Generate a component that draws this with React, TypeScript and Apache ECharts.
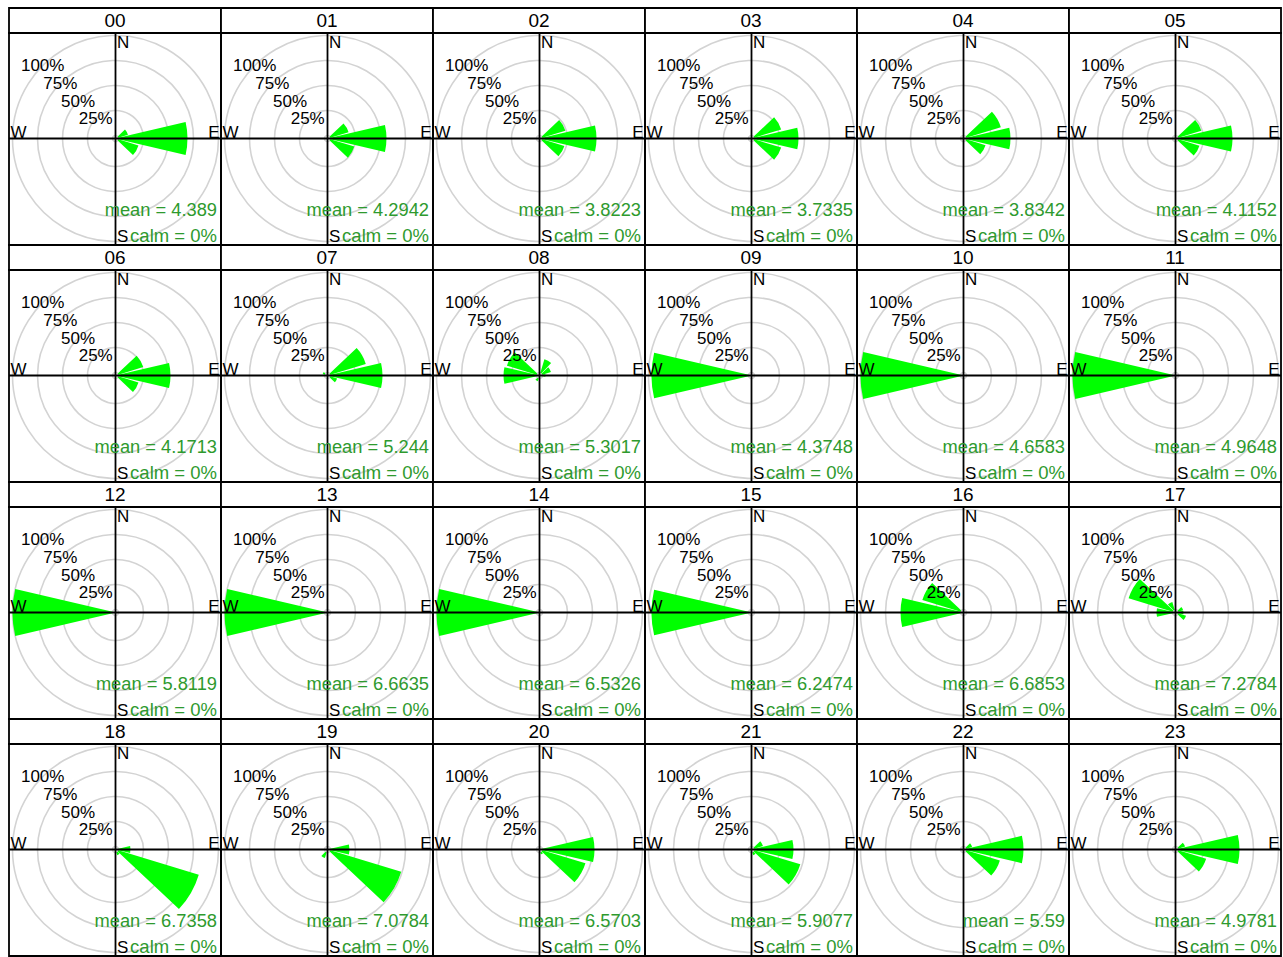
import React, { useEffect, useRef } from "react";
import * as echarts from "echarts";

// hour labels of the 24 panels
const hours = [
  "00", "01", "02", "03", "04", "05",
  "06", "07", "08", "09", "10", "11",
  "12", "13", "14", "15", "16", "17",
  "18", "19", "20", "21", "22", "23",
];

// 30 degree sectors, clockwise from north
const directions = ["0", "30", "60", "90", "120", "150", "180", "210", "240", "270", "300", "330"];

const ringTicks = [25, 50, 75, 100];

const means = [
  "4.389", "4.2942", "3.8223", "3.7335", "3.8342", "4.1152",
  "4.1713", "5.244", "5.3017", "4.3748", "4.6583", "4.9648",
  "5.8119", "6.6635", "6.5326", "6.2474", "6.6853", "7.2784",
  "6.7358", "7.0784", "6.5703", "5.9077", "5.59", "4.9781",
];

const calms = [0, 0, 0, 0, 0, 0, 0, 0, 0, 0, 0, 0, 0, 0, 0, 0, 0, 0, 0, 0, 0, 0, 0, 0];

// frequency (%) per sector, one row per hour
const freq: number[][] = [
  [0, 0, 10, 69, 21, 0, 0, 0, 0, 0, 0, 0],
  [0, 0, 19, 56, 25, 0, 0, 0, 0, 0, 0, 0],
  [0, 0, 24, 54, 23, 0, 0, 0, 0, 0, 0, 0],
  [0, 0, 28, 44, 28, 0, 0, 0, 0, 0, 0, 0],
  [0, 0, 36, 44, 20, 0, 0, 0, 0, 0, 0, 0],
  [0, 0, 24, 54, 22, 0, 0, 0, 0, 0, 0, 0],
  [0, 0, 26, 52, 21, 0, 0, 0, 0, 0, 0, 0],
  [0, 0, 37, 52, 7, 0, 0, 0, 0, 0, 2, 0],
  [0, 14, 9, 3, 0, 0, 0, 3, 0, 33, 31, 0],
  [0, 0, 0, 0, 0, 0, 0, 0, 0, 97, 0, 0],
  [0, 0, 0, 0, 0, 0, 0, 0, 0, 100, 0, 0],
  [0, 0, 0, 0, 0, 0, 0, 0, 0, 100, 0, 0],
  [0, 0, 0, 0, 0, 0, 0, 0, 0, 100, 0, 0],
  [0, 0, 0, 0, 0, 0, 0, 0, 0, 100, 0, 0],
  [0, 0, 0, 0, 0, 0, 0, 0, 0, 100, 0, 0],
  [0, 0, 0, 0, 0, 0, 0, 0, 0, 97, 0, 0],
  [0, 0, 0, 0, 0, 0, 0, 0, 0, 60, 40, 0],
  [0, 0, 5, 5, 8, 0, 0, 0, 0, 16, 46, 8],
  [0, 0, 0, 12, 84, 3, 0, 0, 0, 0, 0, 0],
  [0, 0, 0, 19, 74, 0, 0, 6, 0, 0, 0, 0],
  [0, 0, 0, 52, 45, 2, 0, 0, 0, 0, 0, 0],
  [0, 0, 9, 39, 48, 3, 0, 0, 0, 0, 0, 0],
  [0, 0, 6, 57, 35, 0, 0, 0, 0, 0, 0, 0],
  [0, 0, 7, 61, 29, 0, 0, 0, 0, 0, 0, 0],
];

const FONT = "'Liberation Sans', Arial, Helvetica, sans-serif";
const GREEN_TEXT = "#2e9a2e";

// panel layout
const X0 = 9;
const Y0 = 8;
const COL_W = 212;
const STRIP_H = 25;
const PANEL_H = 212;
const ROW_H = STRIP_H + PANEL_H;
const NCOL = 6;

function buildOption(): echarts.EChartsOption {
  const polar: any[] = [];
  const angleAxis: any[] = [];
  const radiusAxis: any[] = [];
  const series: any[] = [];
  const graphic: any[] = [];

  hours.forEach((h, i) => {
    const col = i % NCOL;
    const row = Math.floor(i / NCOL);
    const left = X0 + col * COL_W;
    const right = left + COL_W;
    const top = Y0 + row * ROW_H;
    const pTop = top + STRIP_H;
    const pBottom = pTop + PANEL_H;
    const cx = left + 106.5;
    const cy = pTop + 105.5;

    // wedges + grey rings
    polar.push({ center: [cx, cy], radius: [3, 103] });
    angleAxis.push({
      polarIndex: 2 * i,
      type: "category",
      data: directions,
      startAngle: 105,
      clockwise: true,
      axisLine: { show: false },
      axisTick: { show: false },
      axisLabel: { show: false },
      splitLine: { show: false },
    });
    radiusAxis.push({
      polarIndex: 2 * i,
      type: "value",
      min: 0,
      max: 100,
      interval: 25,
      axisLine: { show: false },
      axisTick: { show: false },
      axisLabel: { show: false },
      splitLine: { show: true, lineStyle: { color: "#d3d3d3", width: 1.6 } },
    });
    series.push({
      type: "bar",
      coordinateSystem: "polar",
      polarIndex: 2 * i,
      data: freq[i],
      barCategoryGap: "12%",
      itemStyle: { color: "#00ff00" },
      z: 2,
    });

    // ring labels along the NW diagonal
    polar.push({ center: [cx, cy], radius: [3, 103] });
    angleAxis.push({
      polarIndex: 2 * i + 1,
      type: "value",
      min: 0,
      max: 360,
      startAngle: 135,
      show: false,
    });
    radiusAxis.push({
      polarIndex: 2 * i + 1,
      type: "value",
      min: 0,
      max: 100,
      interval: 25,
      z: 10,
      axisLine: { show: false },
      axisTick: { show: false },
      splitLine: { show: false },
      axisLabel: {
        show: true,
        margin: 0,
        align: "center",
        verticalAlign: "middle",
        color: "#000",
        fontSize: 17,
        fontFamily: FONT,
        formatter: (v: number) => (ringTicks.includes(v) ? `${v}%` : ""),
      },
    });

    // strip, panel frame, cross lines, texts
    graphic.push(
      {
        type: "rect",
        shape: { x: left, y: top, width: COL_W, height: STRIP_H },
        style: { fill: "#fff", stroke: "#000", lineWidth: 1.8 },
        z: 100,
      },
      {
        type: "text",
        x: left + COL_W / 2,
        y: top + 12.5,
        style: { text: h, fill: "#000", fontSize: 19, fontFamily: FONT, align: "center", verticalAlign: "middle" },
        z: 101,
      },
      {
        type: "rect",
        shape: { x: left, y: pTop, width: COL_W, height: PANEL_H },
        style: { fill: "none", stroke: "#000", lineWidth: 1.8 },
        z: 100,
      },
      {
        type: "line",
        shape: { x1: left, y1: cy, x2: right, y2: cy },
        style: { stroke: "#000", lineWidth: 1.8 },
        z: 100,
      },
      {
        type: "line",
        shape: { x1: cx, y1: pTop, x2: cx, y2: pBottom },
        style: { stroke: "#000", lineWidth: 1.8 },
        z: 100,
      },
      {
        type: "text",
        x: cx + 1.5,
        y: pTop + 1,
        style: { text: "N", fill: "#000", fontSize: 17, fontFamily: FONT, align: "left", verticalAlign: "top" },
        z: 101,
      },
      {
        type: "text",
        x: cx + 1.5,
        y: pBottom,
        style: { text: "S", fill: "#000", fontSize: 17, fontFamily: FONT, align: "left", verticalAlign: "bottom" },
        z: 101,
      },
      {
        type: "text",
        x: left + 1.5,
        y: cy + 2,
        style: { text: "W", fill: "#000", fontSize: 17, fontFamily: FONT, align: "left", verticalAlign: "bottom" },
        z: 101,
      },
      {
        type: "text",
        x: right - 1.5,
        y: cy + 2,
        style: { text: "E", fill: "#000", fontSize: 17, fontFamily: FONT, align: "right", verticalAlign: "bottom" },
        z: 101,
      },
      {
        type: "text",
        x: right - 4,
        y: pBottom - 27,
        style: { text: `mean = ${means[i]}`, fill: GREEN_TEXT, fontSize: 18.3, fontFamily: FONT, align: "right", verticalAlign: "bottom" },
        z: 101,
      },
      {
        type: "text",
        x: right - 4,
        y: pBottom,
        style: { text: `calm = ${calms[i]}%`, fill: GREEN_TEXT, fontSize: 18.5, fontFamily: FONT, align: "right", verticalAlign: "bottom" },
        z: 101,
      }
    );
  });

  return {
    animation: false,
    backgroundColor: "#fff",
    polar,
    angleAxis,
    radiusAxis,
    series,
    graphic: { elements: graphic },
  } as echarts.EChartsOption;
}

const App: React.FC = () => {
  const chartRef = useRef<HTMLDivElement>(null);

  useEffect(() => {
    document.body.style.margin = "0";
    if (!chartRef.current) return;
    const chart = echarts.init(chartRef.current, undefined, { renderer: "svg" });
    chart.setOption(buildOption());

    return () => {
      chart.dispose();
    };
  }, []);

  return <div ref={chartRef} style={{ width: "1283px", height: "957px" }} />;
};

export default App;
